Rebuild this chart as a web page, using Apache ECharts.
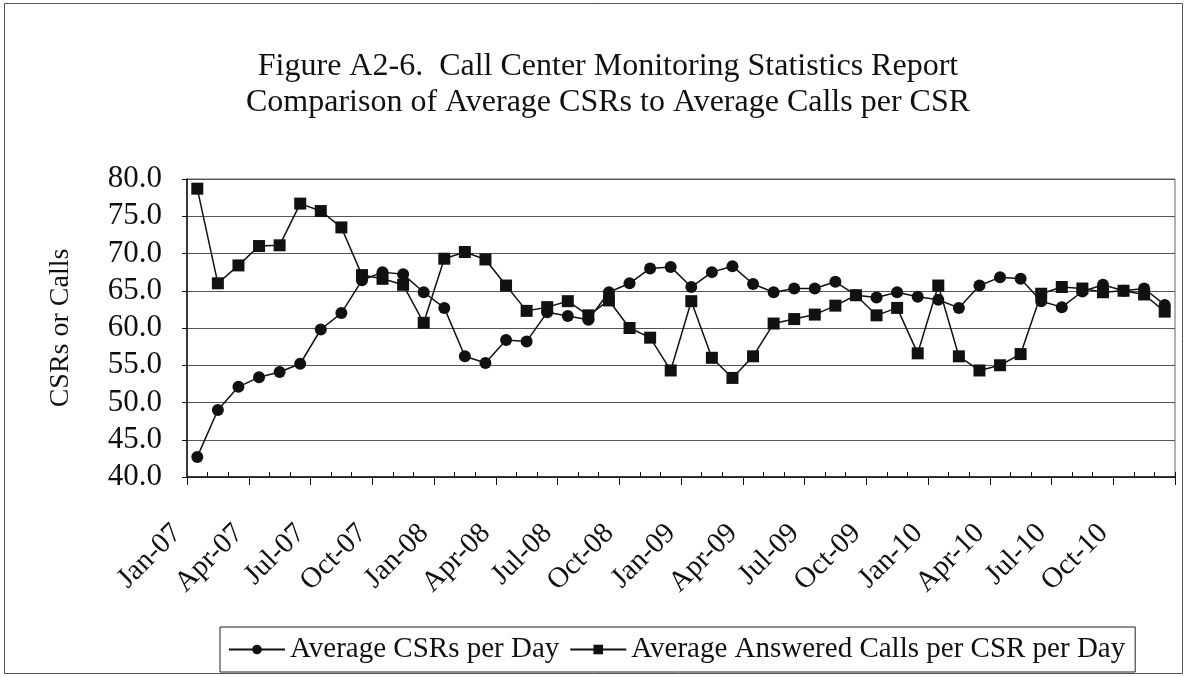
<!DOCTYPE html>
<html>
<head>
<meta charset="utf-8">
<title>Figure A2-6</title>
<script src="https://cdn.jsdelivr.net/npm/echarts@6/dist/echarts.min.js"></script>
<style>
  html, body { margin: 0; padding: 0; background: #fff; }
  #chart { width: 1187px; height: 677px; }
</style>
</head>
<body>
<div id="chart"></div>
<script>
// months Jan-07 .. Dec-10
const months = [
  'Jan-07','Feb-07','Mar-07','Apr-07','May-07','Jun-07','Jul-07','Aug-07','Sep-07','Oct-07','Nov-07','Dec-07',
  'Jan-08','Feb-08','Mar-08','Apr-08','May-08','Jun-08','Jul-08','Aug-08','Sep-08','Oct-08','Nov-08','Dec-08',
  'Jan-09','Feb-09','Mar-09','Apr-09','May-09','Jun-09','Jul-09','Aug-09','Sep-09','Oct-09','Nov-09','Dec-09',
  'Jan-10','Feb-10','Mar-10','Apr-10','May-10','Jun-10','Jul-10','Aug-10','Sep-10','Oct-10','Nov-10','Dec-10'
];

// tick labels every 3 months
const tickLabels = [
  'Jan-07','Apr-07','Jul-07','Oct-07','Jan-08','Apr-08','Jul-08','Oct-08',
  'Jan-09','Apr-09','Jul-09','Oct-09','Jan-10','Apr-10','Jul-10','Oct-10'
];

const avgCsrs = [
  42.7, 49.0, 52.1, 53.4, 54.1, 55.2, 59.8, 62.0, 66.4, 67.5, 67.2, 64.8,
  62.7, 56.2, 55.3, 58.4, 58.2, 62.1, 61.6, 61.1, 64.8, 66.0, 68.0, 68.2,
  65.5, 67.5, 68.3, 65.9, 64.8, 65.3, 65.3, 66.2, 64.4, 64.1, 64.8, 64.2,
  63.8, 62.7, 65.7, 66.8, 66.6, 63.6, 62.8, 64.9, 65.8, 65.0, 65.3, 63.1
];

const avgCalls = [
  78.7, 66.0, 68.4, 71.0, 71.1, 76.7, 75.7, 73.5, 67.1, 66.6, 65.8, 60.7,
  69.3, 70.2, 69.2, 65.7, 62.3, 62.8, 63.6, 61.7, 63.7, 60.0, 58.7, 54.3,
  63.6, 56.0, 53.3, 56.2, 60.6, 61.2, 61.8, 63.0, 64.4, 61.7, 62.7, 56.6,
  65.7, 56.2, 54.3, 55.0, 56.5, 64.6, 65.5, 65.3, 64.8, 65.0, 64.5, 62.2
];

const font = '"Liberation Serif", "Times New Roman", serif';

const chart = echarts.init(document.getElementById('chart'));

chart.setOption({
  animation: false,
  backgroundColor: '#fff',
  textStyle: { fontFamily: font, color: '#111' },
  graphic: [
    {
      // outer chart frame
      type: 'rect',
      shape: { x: 4.5, y: 3.5, width: 1178, height: 670 },
      style: { fill: 'none', stroke: '#555', lineWidth: 1 },
      silent: true
    }
  ],
  title: {
    text: 'Figure A2-6.  Call Center Monitoring Statistics Report\nComparison of Average CSRs to Average Calls per CSR',
    left: 608,
    top: 49,
    padding: 0,
    textAlign: 'center',
    textStyle: {
      fontFamily: font,
      fontSize: 32,
      fontWeight: 'normal',
      color: '#111',
      lineHeight: 36
    }
  },
  legend: {
    left: 220,
    top: 627,
    padding: [8, 10, 8, 8],
    borderColor: '#222',
    borderWidth: 1,
    itemGap: 10,
    itemWidth: 56,
    itemHeight: 12,
    textStyle: { fontFamily: font, fontSize: 29, color: '#111' },
    data: ['Average CSRs per Day', 'Average Answered Calls per CSR per Day']
  },
  grid: {
    left: 187,
    right: 12,
    top: 179,
    bottom: 200,
    show: true,
    borderColor: '#666',
    borderWidth: 1
  },
  xAxis: [
    {
      // monthly category axis: carries the series and the inside minor ticks
      type: 'category',
      data: months,
      boundaryGap: true,
      position: 'bottom',
      axisLine: { show: true, lineStyle: { color: '#111', width: 1.5 } },
      axisTick: {
        show: true,
        inside: true,
        length: 5,
        interval: (i) => i % 3 !== 0,
        lineStyle: { color: '#111' }
      },
      axisLabel: { show: false },
      splitLine: { show: false }
    },
    {
      // quarterly labels and outside major ticks
      type: 'value',
      min: 0,
      max: 48,
      interval: 3,
      position: 'bottom',
      axisLine: { show: false },
      axisTick: { show: true, length: 8, lineStyle: { color: '#111' } },
      axisLabel: {
        rotate: 45,
        margin: 42,
        padding: [0, 14, 0, 0],
        fontFamily: font,
        fontSize: 29,
        color: '#111',
        formatter: (v) => tickLabels[v / 3] || ''
      },
      splitLine: { show: false }
    }
  ],
  yAxis: {
    type: 'value',
    min: 40,
    max: 80,
    interval: 5,
    name: 'CSRs or Calls',
    nameLocation: 'middle',
    nameGap: 112,
    nameTextStyle: { fontFamily: font, fontSize: 28, color: '#111' },
    axisLine: { show: true, lineStyle: { color: '#111', width: 1.5 } },
    axisTick: { show: true, length: 5, lineStyle: { color: '#111' } },
    axisLabel: {
      margin: 25,
      fontFamily: font,
      fontSize: 31,
      color: '#111',
      formatter: (v) => v.toFixed(1)
    },
    splitLine: { show: true, lineStyle: { color: '#555', width: 1 } }
  },
  series: [
    {
      name: 'Average CSRs per Day',
      type: 'line',
      xAxisIndex: 0,
      data: avgCsrs,
      symbol: 'circle',
      symbolSize: 12,
      lineStyle: { color: '#111', width: 1.5 },
      itemStyle: { color: '#111' }
    },
    {
      name: 'Average Answered Calls per CSR per Day',
      type: 'line',
      xAxisIndex: 0,
      data: avgCalls,
      symbol: 'rect',
      symbolSize: 12,
      lineStyle: { color: '#111', width: 1.5 },
      itemStyle: { color: '#111' }
    }
  ]
});
</script>
</body>
</html>
